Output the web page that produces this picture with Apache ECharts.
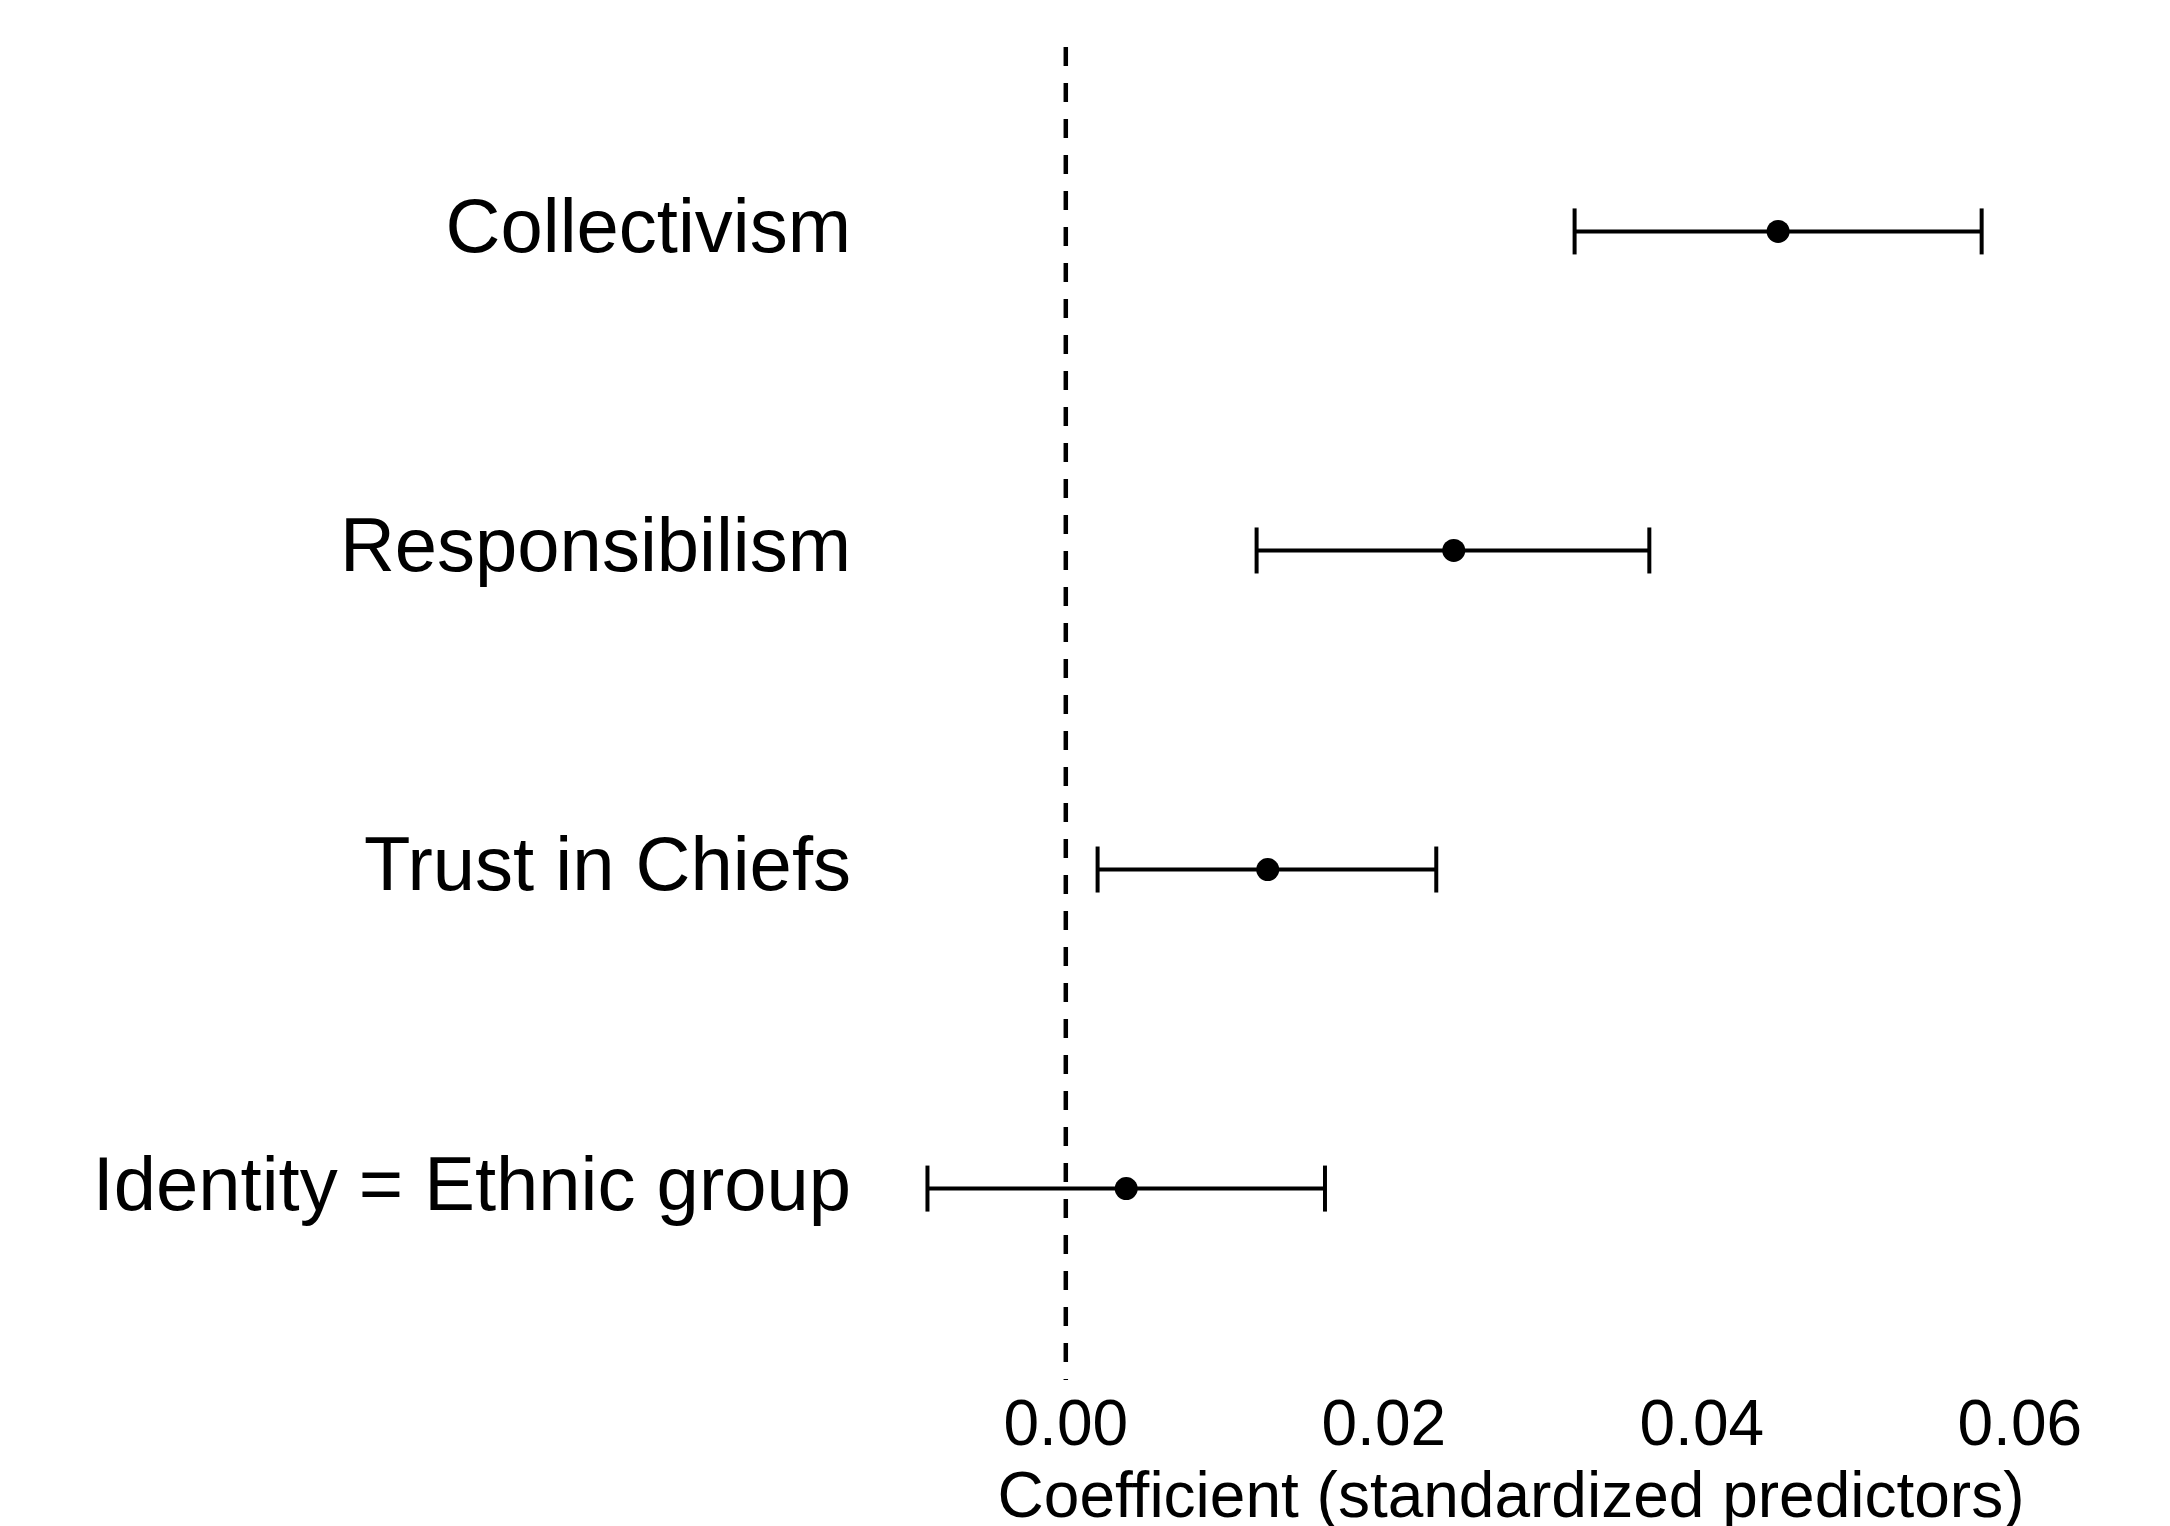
<!DOCTYPE html>
<html>
<head>
	<meta charset="UTF-8">
	<title>Coefficient plot</title>
	<script src="https://cdn.jsdelivr.net/npm/echarts@6/dist/echarts.min.js"></script>
	<style>
		html, body { margin: 0; padding: 0; background: #fff; }
		#main { width: 2170px; height: 1526px; }
	</style>
</head>
<body>
<div id="main"></div>
<script type="text/javascript">
	// predictors, top to bottom
	var terms = ['Collectivism', 'Responsibilism', 'Trust in Chiefs', 'Identity = Ethnic group'];
	var estimate = [0.0448, 0.0244, 0.0127, 0.0038];
	var lower = [0.0320, 0.0120, 0.0020, -0.0087];
	var upper = [0.0576, 0.0367, 0.0233, 0.0163];
	var xTicks = [0, 0.02, 0.04, 0.06];
	var rows = [1, 2, 3, 4];

	var font = 'Liberation Sans, Arial, Helvetica, sans-serif';

	var myChart = echarts.init(document.getElementById('main'));

	var pointData = estimate.map(function (v, i) { return [v, rows[i]]; });
	var barData = lower.map(function (v, i) { return [v, upper[i], rows[i]]; });

	var option = {
		backgroundColor: '#fff',
		animation: false,
		grid: { left: 875, right: 23, top: 40, bottom: 146, outerBoundsMode: 'none' },
		xAxis: {
			type: 'value',
			min: -0.012,
			max: 0.068,
			name: 'Coefficient (standardized predictors)',
			nameLocation: 'middle',
			nameGap: 87,
			nameTextStyle: { fontSize: 64, color: '#000', fontFamily: font },
			axisLine: { show: false },
			axisTick: { show: false },
			splitLine: { show: false },
			axisLabel: {
				customValues: xTicks,
				margin: 15,
				fontSize: 64,
				color: '#000',
				fontFamily: font,
				formatter: function (v) { return v.toFixed(2); }
			}
		},
		yAxis: {
			type: 'value',
			min: 0.4,
			max: 4.6,
			inverse: true,
			axisLine: { show: false },
			axisTick: { show: false },
			splitLine: { show: false },
			axisLabel: {
				customValues: rows,
				margin: 24,
				fontSize: 76,
				padding: [12, 0, 0, 0],
				color: '#000',
				fontFamily: font,
				formatter: function (v) { return terms[Math.round(v) - 1]; }
			}
		},
		series: [
			{
				// dashed zero line
				type: 'line',
				data: [[0, 0.4], [0, 4.6]],
				symbol: 'none',
				lineStyle: { color: '#000', width: 4.5, type: [19, 17], dashOffset: 29 },
				z: 1
			},
			{
				type: 'custom',
				data: barData,
				renderItem: function (params, api) {
					var a = api.coord([api.value(0), api.value(2)]);
					var b = api.coord([api.value(1), api.value(2)]);
					var h = 23;
					var st = { stroke: '#000', lineWidth: 4 };
					return {
						type: 'group',
						children: [
							{ type: 'line', shape: { x1: a[0], y1: a[1], x2: b[0], y2: b[1] }, style: st },
							{ type: 'line', shape: { x1: a[0], y1: a[1] - h, x2: a[0], y2: a[1] + h }, style: st },
							{ type: 'line', shape: { x1: b[0], y1: b[1] - h, x2: b[0], y2: b[1] + h }, style: st }
						]
					};
				},
				z: 2
			},
			{
				type: 'scatter',
				data: pointData,
				symbolSize: 23,
				itemStyle: { color: '#000', opacity: 1 },
				z: 3
			}
		]
	};
	myChart.setOption(option);
</script>
</body>
</html>
